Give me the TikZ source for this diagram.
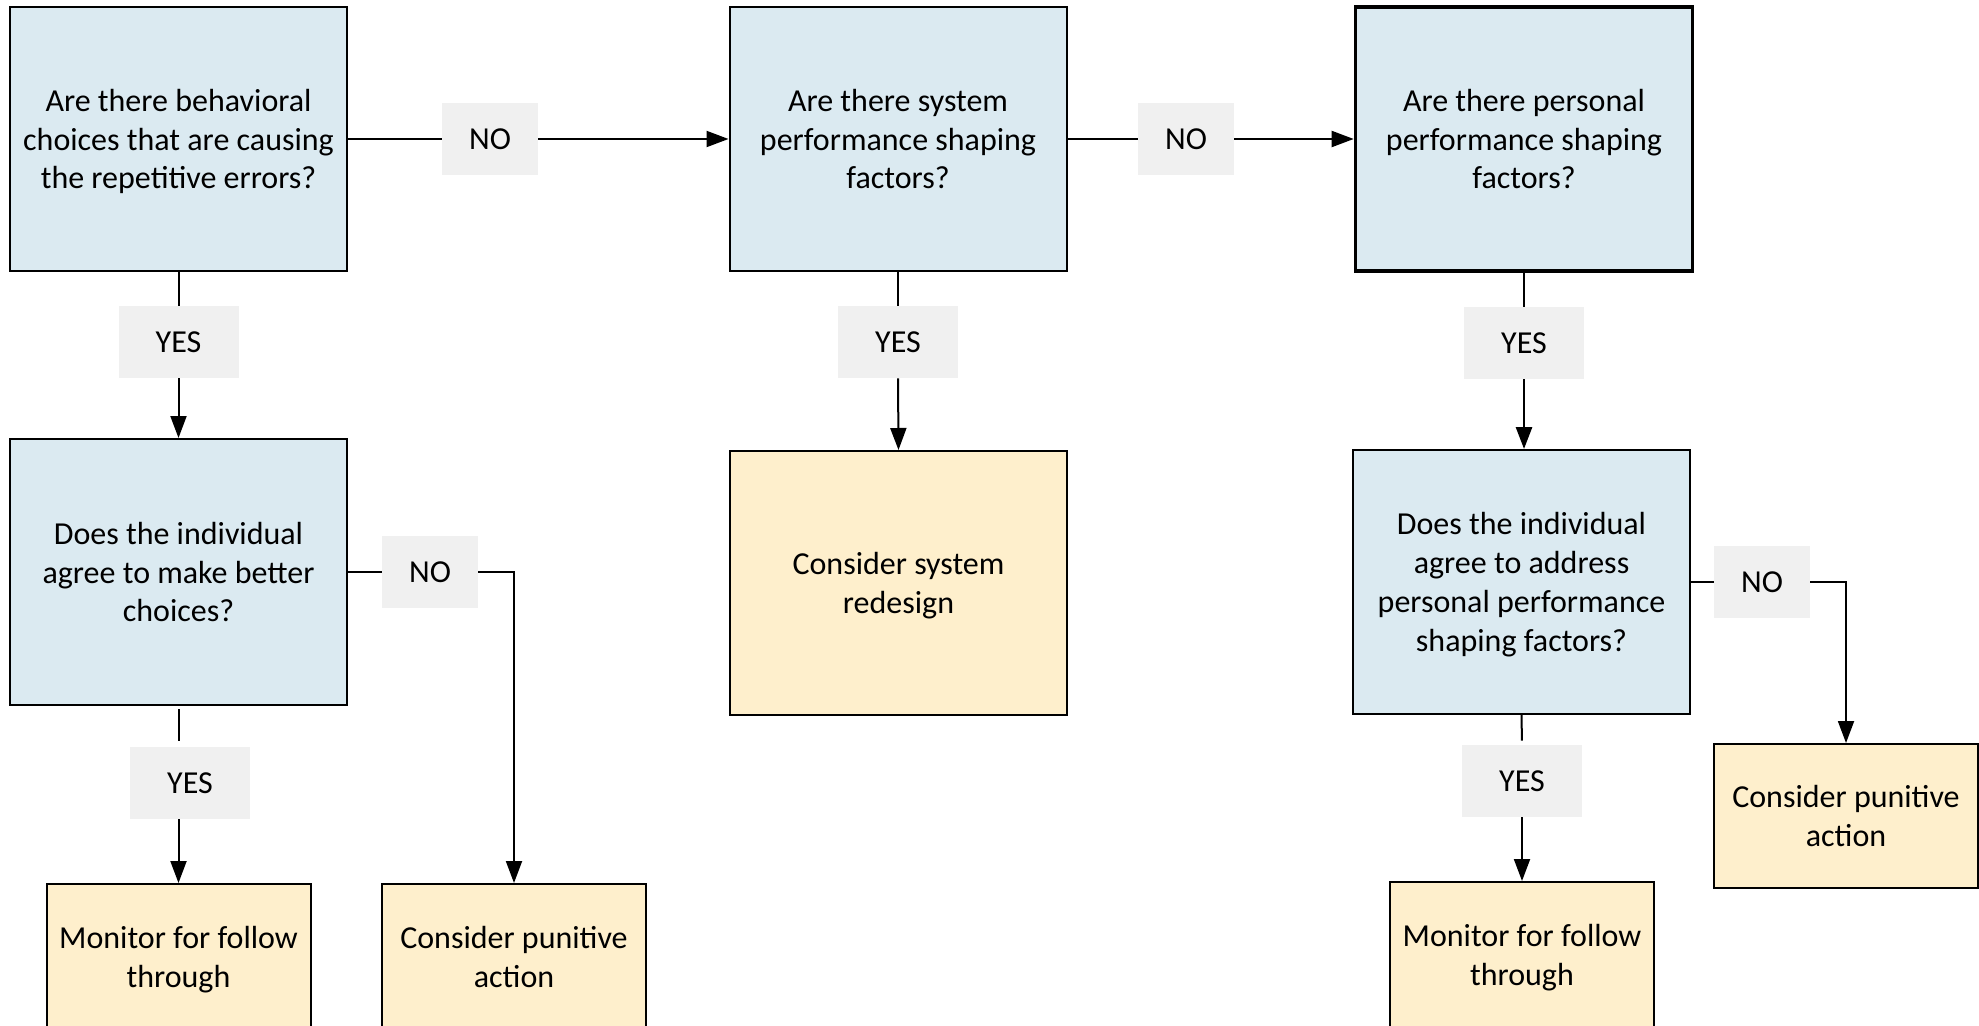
\documentclass[tikz,border=0pt]{standalone}
\usepackage{fontspec}
\setmainfont{Carlito}
\usetikzlibrary{arrows.meta}
\definecolor{qblue}{RGB}{219,234,241}
\definecolor{ayel}{RGB}{254,239,204}
\definecolor{lgray}{RGB}{240,240,240}
\begin{document}
\begin{tikzpicture}[x=0.5pt,y=-0.5pt,
  font=\fontsize{16}{19.4}\selectfont,
  qbox/.style={draw=black,line width=1pt,fill=qblue,minimum width=168.5pt,minimum height=132pt,align=center,inner sep=0pt,text depth=0pt},
  abox/.style={draw=black,line width=1pt,fill=ayel,align=center,inner sep=0pt,text depth=0pt},
  lbl/.style={fill=lgray,minimum height=36pt,inner sep=0pt},
  conn/.style={line width=1pt},
  arr/.style={conn,-{Triangle[length=11pt,width=8pt]}}]
\useasboundingbox (0,0) rectangle (1979,1026);

% question boxes
\node[qbox] (A) at (178.5,139) {Are there behavioral\\choices that are causing\\the repetitive errors?};
\node[qbox] (B) at (898,139) {Are there system\\performance shaping\\factors?};
\node[qbox,line width=1.8pt] (C) at (1524,139) {Are there personal\\performance shaping\\factors?};
\node[qbox,minimum height=133pt] (D) at (178.5,572) {Does the individual\\agree to make better\\choices?};
\node[qbox] (H) at (1521.5,582) {Does the individual\\agree to address\\personal performance\\shaping factors?};

% action boxes
\node[abox,minimum width=168.5pt,minimum height=132pt] (G) at (898.5,583) {Consider system\\redesign};
\node[abox,minimum width=132pt,minimum height=73pt] (E) at (178.5,957) {Monitor for follow\\through};
\node[abox,minimum width=132pt,minimum height=73pt] (F) at (514,957) {Consider punitive\\action};
\node[abox,minimum width=132pt,minimum height=73pt] (K) at (1522,955) {Monitor for follow\\through};
\node[abox,minimum width=132pt,minimum height=72pt] (J) at (1846,816) {Consider punitive\\action};

% labels
\node[lbl,minimum width=48pt] (n1) at (490,139) {NO};
\node[lbl,minimum width=48pt] (n2) at (1186,139) {NO};
\node[lbl,minimum width=60pt] (y1) at (178.5,342) {YES};
\node[lbl,minimum width=60pt] (y2) at (898,342) {YES};
\node[lbl,minimum width=60pt] (y3) at (1524,343) {YES};
\node[lbl,minimum width=48pt] (n3) at (430,572) {NO};
\node[lbl,minimum width=60pt] (y4) at (190,783) {YES};
\node[lbl,minimum width=48pt] (n4) at (1762,582) {NO};
\node[lbl,minimum width=60pt] (y5) at (1522,781) {YES};

% connectors
\draw[conn] (A.east) -- (n1.west);
\draw[arr] (n1.east) -- (B.west);
\draw[conn] (B.east) -- (n2.west);
\draw[arr] (n2.east) -- (C.west);

\draw[conn] (A.south) -- (y1.north);
\draw[arr] (y1.south) -- (D.north);
\draw[conn] (B.south) -- (y2.north);
\draw[arr] (y2.south) -- (G.north);
\draw[conn,line width=1.4pt] (C.south) -- (y3.north);
\draw[arr,line width=1.4pt] (y3.south) -- (y3.south |- H.north);

\draw[conn,shorten <=1.5pt,shorten >=3pt] (D.south) -- (D.south |- y4.north);
\draw[arr] (D.south |- y4.south) -- (E.north);
\draw[conn] (D.east) -- (n3.west);
\draw[arr] (n3.east) -| (F.north);

\draw[conn,shorten >=2pt] (H.south) -- (y5.north);
\draw[arr] (y5.south) -- (K.north);
\draw[conn] (H.east) -- (n4.west);
\draw[arr] (n4.east) -| (J.north);
\end{tikzpicture}
\end{document}
